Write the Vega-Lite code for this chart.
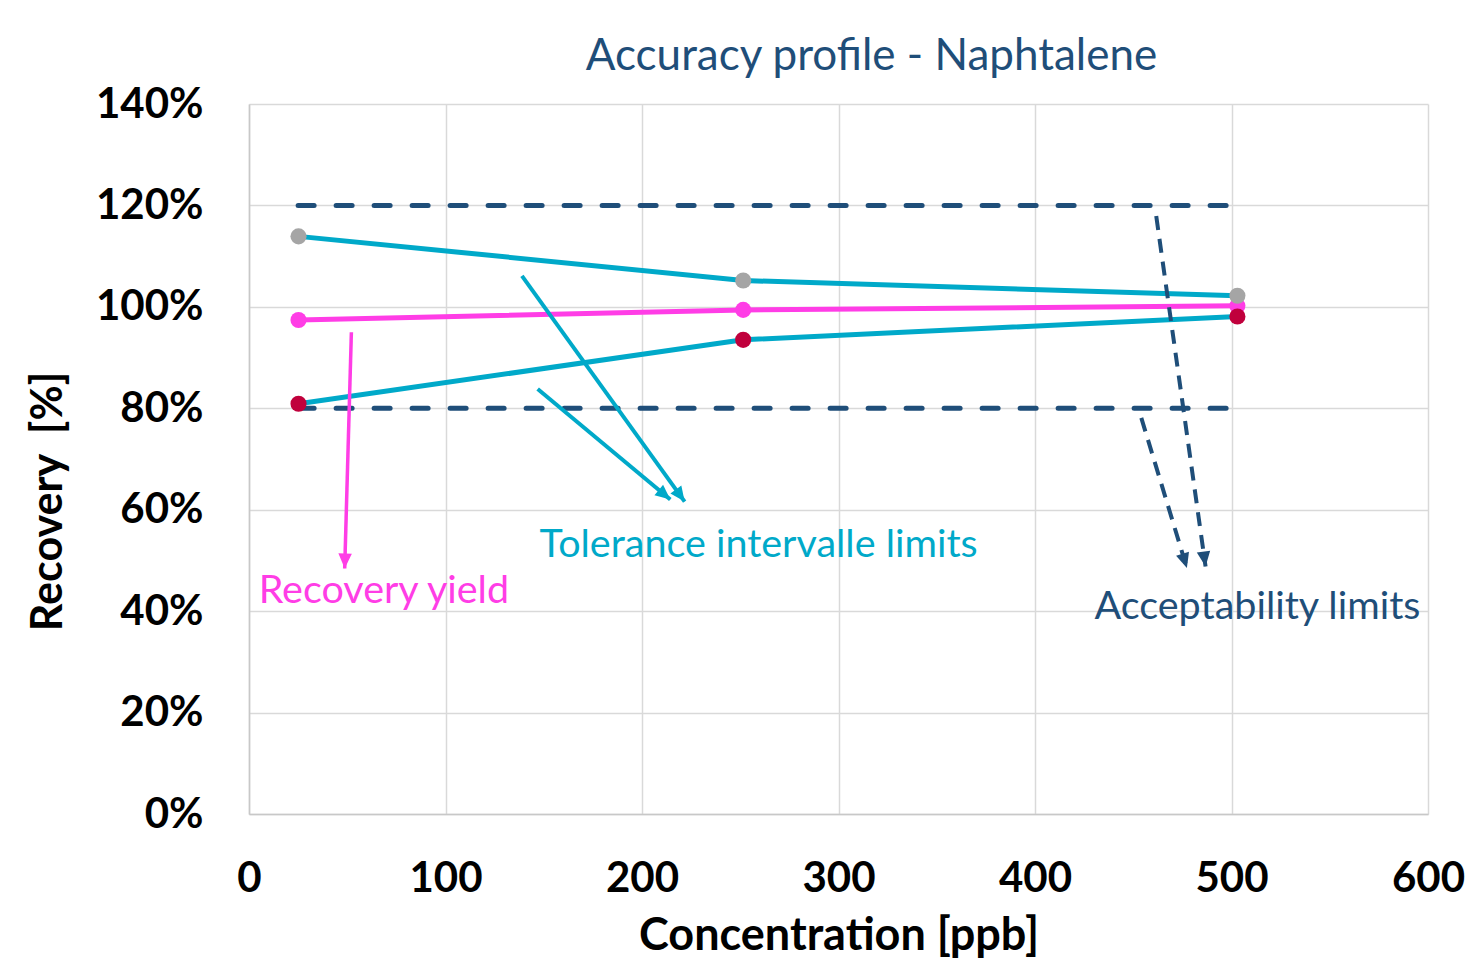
{
  "$schema": "https://vega.github.io/schema/vega-lite/v6.json",
  "width": 1179,
  "height": 710,
  "autosize": {"type": "none"},
  "padding": {"left": 249, "top": 104, "right": 42, "bottom": 147},
  "background": "white",
  "config": {
    "view": {"stroke": null},
    "font": "Lato"
  },
  "title": {
    "text": "Accuracy profile - Naphtalene",
    "font": "Lato",
    "fontSize": 44,
    "fontWeight": "normal",
    "color": "#1F4E79",
    "anchor": "middle",
    "frame": "group",
    "baseline": "alphabetic",
    "offset": 34,
    "dx": 33,
    "dy": 65
  },
  "datasets": {
    "profile": [
      {"conc": 25.2, "series": "upper", "value": 113.9},
      {"conc": 251.5, "series": "upper", "value": 105.2},
      {"conc": 503, "series": "upper", "value": 102.2},
      {"conc": 25.2, "series": "recovery", "value": 97.4},
      {"conc": 251.5, "series": "recovery", "value": 99.4},
      {"conc": 503, "series": "recovery", "value": 100.2},
      {"conc": 25.2, "series": "lower", "value": 80.9},
      {"conc": 251.5, "series": "lower", "value": 93.5},
      {"conc": 503, "series": "lower", "value": 98.1}
    ],
    "limits": [
      {"conc": 25, "limit": "upper", "value": 120},
      {"conc": 500, "limit": "upper", "value": 120},
      {"conc": 25, "limit": "lower", "value": 80},
      {"conc": 500, "limit": "lower", "value": 80}
    ],
    "arrows": [
      {"id": "ry", "x": 52.1, "y": 95.0, "x2": 48.7, "y2": 48.4},
      {"id": "tolA", "x": 138.9, "y": 106.1, "x2": 221.7, "y2": 61.6},
      {"id": "tolB", "x": 146.9, "y": 83.8, "x2": 214.4, "y2": 62.0},
      {"id": "acc1", "x": 461.7, "y": 117.9, "x2": 486.8, "y2": 48.8},
      {"id": "acc2", "x": 454.1, "y": 78.1, "x2": 477.3, "y2": 48.5}
    ],
    "labels": [
      {"id": "ry", "label": "Recovery yield", "x": 4.9, "y": 41.7},
      {"id": "tol", "label": "Tolerance intervalle limits", "x": 147.9, "y": 50.7},
      {"id": "acc", "label": "Acceptability limits", "x": 430.3, "y": 38.5}
    ]
  },
  "encoding": {
    "x": {
      "field": "conc",
      "type": "quantitative",
      "scale": {"domain": [0, 600], "nice": false},
      "axis": {
        "title": "Concentration [ppb]",
        "values": [0, 100, 200, 300, 400, 500, 600],
        "grid": true,
        "gridColor": "#D9D9D9",
        "gridWidth": 1.5,
        "domainColor": "#C8C8C8",
        "domainWidth": 1.5,
        "ticks": false,
        "labelFont": "Lato",
        "labelFontSize": 42,
        "labelFontWeight": "bold",
        "labelColor": "#000000",
        "labelBaseline": "alphabetic",
        "labelPadding": 77,
        "labelFlush": false,
        "labelOverlap": false,
        "titleFont": "Lato",
        "titleFontSize": 45,
        "titleFontWeight": "bold",
        "titleColor": "#000000",
        "titleBaseline": "alphabetic",
        "titleY": 135
      }
    },
    "y": {
      "field": "value",
      "type": "quantitative",
      "scale": {"domain": [0, 140], "nice": false},
      "axis": {
        "title": "Recovery\u00a0 [%]",
        "values": [0, 20, 40, 60, 80, 100, 120, 140],
        "labelExpr": "datum.value + '%'",
        "grid": true,
        "gridColor": "#D9D9D9",
        "gridWidth": 1.5,
        "domainColor": "#C8C8C8",
        "domainWidth": 1.5,
        "ticks": false,
        "labelFont": "Lato",
        "labelFontSize": 42,
        "labelFontWeight": "bold",
        "labelColor": "#000000",
        "labelBaseline": "middle",
        "labelPadding": 46,
        "labelFlush": false,
        "labelOverlap": false,
        "titleFont": "Lato",
        "titleFontSize": 43,
        "titleFontWeight": "bold",
        "titleColor": "#000000",
        "titleAngle": 270,
        "titleBaseline": "alphabetic",
        "titleAlign": "center",
        "titleX": -188,
        "titleY": 397
      }
    }
  },
  "layer": [
    {
      "data": {"name": "limits"},
      "mark": {"type": "line", "color": "#1F4E79", "strokeWidth": 5, "strokeDash": [16, 22], "strokeCap": "round"},
      "encoding": {"detail": {"field": "limit"}}
    },
    {
      "data": {"name": "profile"},
      "mark": {"type": "line", "strokeWidth": 5},
      "encoding": {
        "detail": {"field": "series"},
        "stroke": {
          "field": "series",
          "scale": {"domain": ["upper", "recovery", "lower"], "range": ["#00A9C9", "#FF3DE6", "#00A9C9"]},
          "legend": null
        }
      }
    },
    {
      "data": {"name": "profile"},
      "transform": [{"filter": "datum.series === 'recovery'"}],
      "mark": {"type": "point", "filled": true, "size": 260, "opacity": 1, "color": "#FF3DE6"}
    },
    {
      "data": {"name": "profile"},
      "transform": [{"filter": "datum.series === 'upper'"}],
      "mark": {"type": "point", "filled": true, "size": 260, "opacity": 1, "color": "#A5A5A5"}
    },
    {
      "data": {"name": "profile"},
      "transform": [{"filter": "datum.series === 'lower'"}],
      "mark": {"type": "point", "filled": true, "size": 260, "opacity": 1, "color": "#C0003C"}
    },
    {
      "data": {"name": "arrows"},
      "transform": [{"filter": "datum.id === 'ry'"}],
      "mark": {"type": "rule", "color": "#FF3DE6", "strokeWidth": 3.5},
      "encoding": {"x": {"field": "x", "type": "quantitative"}, "y": {"field": "y", "type": "quantitative"}, "x2": {"field": "x2"}, "y2": {"field": "y2"}}
    },
    {
      "data": {"name": "arrows"},
      "transform": [{"filter": "datum.id === 'tolA' || datum.id === 'tolB'"}],
      "mark": {"type": "rule", "color": "#00A9C9", "strokeWidth": 4},
      "encoding": {"x": {"field": "x", "type": "quantitative"}, "y": {"field": "y", "type": "quantitative"}, "x2": {"field": "x2"}, "y2": {"field": "y2"}}
    },
    {
      "data": {"name": "arrows"},
      "transform": [{"filter": "datum.id === 'acc1' || datum.id === 'acc2'"}],
      "mark": {"type": "rule", "color": "#1F4E79", "strokeWidth": 4, "strokeDash": [14, 9]},
      "encoding": {"x": {"field": "x", "type": "quantitative"}, "y": {"field": "y", "type": "quantitative"}, "x2": {"field": "x2"}, "y2": {"field": "y2"}}
    },
    {
      "data": {"name": "arrows"},
      "transform": [{"filter": "datum.id === 'ry'"}],
      "mark": {"type": "point", "shape": "M0,0L0.9,2L-0.9,2Z", "filled": true, "opacity": 1, "size": 225, "angle": 181.6, "color": "#FF3DE6"},
      "encoding": {"x": {"field": "x2", "type": "quantitative"}, "y": {"field": "y2", "type": "quantitative"}}
    },
    {
      "data": {"name": "arrows"},
      "transform": [{"filter": "datum.id === 'tolA'"}],
      "mark": {"type": "point", "shape": "M0,0L0.9,2L-0.9,2Z", "filled": true, "opacity": 1, "size": 225, "angle": 144.2, "color": "#00A9C9"},
      "encoding": {"x": {"field": "x2", "type": "quantitative"}, "y": {"field": "y2", "type": "quantitative"}}
    },
    {
      "data": {"name": "arrows"},
      "transform": [{"filter": "datum.id === 'tolB'"}],
      "mark": {"type": "point", "shape": "M0,0L0.9,2L-0.9,2Z", "filled": true, "opacity": 1, "size": 225, "angle": 129.8, "color": "#00A9C9"},
      "encoding": {"x": {"field": "x2", "type": "quantitative"}, "y": {"field": "y2", "type": "quantitative"}}
    },
    {
      "data": {"name": "arrows"},
      "transform": [{"filter": "datum.id === 'acc1'"}],
      "mark": {"type": "point", "shape": "M0,0L0.9,2L-0.9,2Z", "filled": true, "opacity": 1, "size": 225, "angle": 172.0, "color": "#1F4E79"},
      "encoding": {"x": {"field": "x2", "type": "quantitative"}, "y": {"field": "y2", "type": "quantitative"}}
    },
    {
      "data": {"name": "arrows"},
      "transform": [{"filter": "datum.id === 'acc2'"}],
      "mark": {"type": "point", "shape": "M0,0L0.9,2L-0.9,2Z", "filled": true, "opacity": 1, "size": 225, "angle": 163.1, "color": "#1F4E79"},
      "encoding": {"x": {"field": "x2", "type": "quantitative"}, "y": {"field": "y2", "type": "quantitative"}}
    },
    {
      "data": {"name": "labels"},
      "transform": [{"filter": "datum.id === 'ry'"}],
      "mark": {"type": "text", "align": "left", "baseline": "alphabetic", "font": "Lato", "fontSize": 39.5, "color": "#FF3DE6"},
      "encoding": {"x": {"field": "x", "type": "quantitative"}, "y": {"field": "y", "type": "quantitative"}, "text": {"field": "label"}}
    },
    {
      "data": {"name": "labels"},
      "transform": [{"filter": "datum.id === 'tol'"}],
      "mark": {"type": "text", "align": "left", "baseline": "alphabetic", "font": "Lato", "fontSize": 39.5, "color": "#00A9C9"},
      "encoding": {"x": {"field": "x", "type": "quantitative"}, "y": {"field": "y", "type": "quantitative"}, "text": {"field": "label"}}
    },
    {
      "data": {"name": "labels"},
      "transform": [{"filter": "datum.id === 'acc'"}],
      "mark": {"type": "text", "align": "left", "baseline": "alphabetic", "font": "Lato", "fontSize": 39.5, "color": "#1F4E79"},
      "encoding": {"x": {"field": "x", "type": "quantitative"}, "y": {"field": "y", "type": "quantitative"}, "text": {"field": "label"}}
    }
  ]
}
